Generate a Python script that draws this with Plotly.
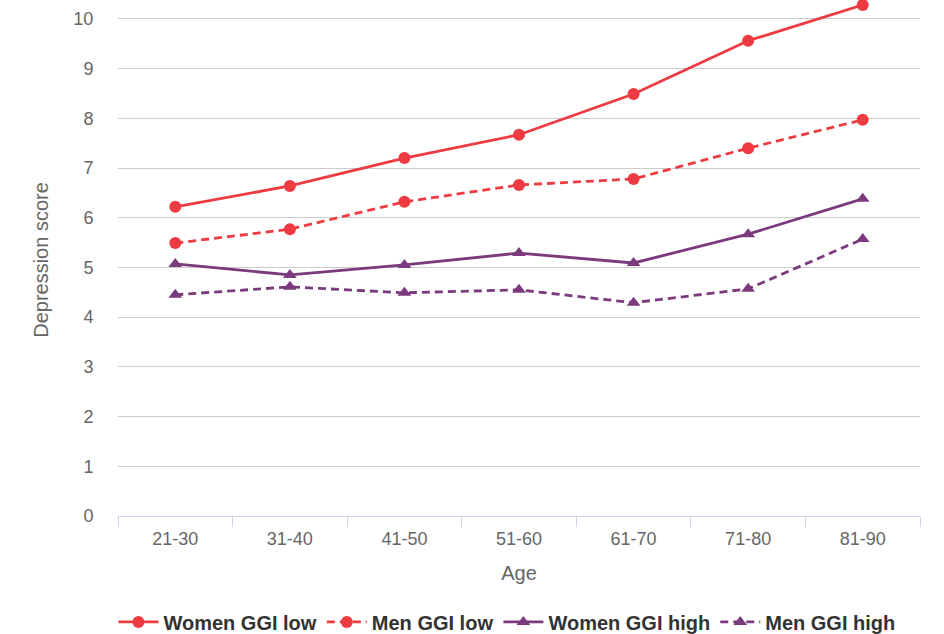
import plotly.graph_objects as go

# Data
age_groups = ["21-30", "31-40", "41-50", "51-60", "61-70", "71-80", "81-90"]
women_ggi_low = [6.22, 6.64, 7.20, 7.67, 8.49, 9.56, 10.28]
men_ggi_low = [5.49, 5.77, 6.32, 6.66, 6.78, 7.40, 7.97]
women_ggi_high = [5.07, 4.85, 5.05, 5.29, 5.09, 5.67, 6.38]
men_ggi_high = [4.45, 4.61, 4.49, 4.55, 4.29, 4.57, 5.57]

RED = "#ee3b42"
PURPLE = "#7b3a7d"
FONT = "Liberation Sans, Arial, sans-serif"

series = [
    ("Women GGI low", women_ggi_low, RED, "solid", "circle"),
    ("Men GGI low", men_ggi_low, RED, "8px,5px", "circle"),
    ("Women GGI high", women_ggi_high, PURPLE, "solid", "triangle-up"),
    ("Men GGI high", men_ggi_high, PURPLE, "8px,5px", "triangle-up"),
]

fig = go.Figure()
for name, values, color, dash, symbol in series:
    fig.add_trace(
        go.Scatter(
            x=age_groups,
            y=values,
            mode="lines+markers",
            name=name,
            line={"color": color, "width": 2.8, "dash": dash},
            marker={"symbol": symbol, "size": 12, "color": color},
            cliponaxis=False,
        )
    )

fig.update_layout(
    width=944,
    height=634,
    margin={"l": 118, "r": 24, "t": 4, "b": 118},
    paper_bgcolor="white",
    plot_bgcolor="white",
    font={"family": FONT, "color": "#666666", "size": 18},
    showlegend=True,
    legend={
        "orientation": "h",
        "x": 0.537,
        "xanchor": "center",
        "xref": "container",
        "y": 0.019,
        "yanchor": "middle",
        "yref": "container",
        "font": {"size": 20, "color": "#333333", "family": FONT, "weight": "bold"},
        "itemwidth": 40,
        "tracegroupgap": 0,
    },
    xaxis={
        "type": "category",
        "tickmode": "array",
        "tickvals": age_groups,
        "ticks": "outside",
        "tickson": "boundaries",
        "ticklen": 10,
        "tickcolor": "#ccd6eb",
        "showline": True,
        "linecolor": "#ccd6eb",
        "linewidth": 1,
        "showgrid": False,
        "automargin": False,
        "ticklabelstandoff": 6,
        "tickfont": {"size": 18, "color": "#666666"},
        "title": {"text": "Age", "font": {"size": 20, "color": "#666666"}, "standoff": 18},
        "range": [-0.5, 6.5],
    },
    yaxis={
        "range": [0, 10.30],
        "tickmode": "array",
        "tickvals": list(range(0, 11)),
        "showgrid": True,
        "gridcolor": "#cccccc",
        "gridwidth": 1,
        "zeroline": False,
        "automargin": False,
        "ticks": "outside",
        "ticklen": 20,
        "tickcolor": "rgba(0,0,0,0)",
        "tickfont": {"size": 18, "color": "#666666"},
        "title": {"text": "Depression score", "font": {"size": 20, "color": "#666666"}, "standoff": 19},
    },
)

# page body has a default 8px margin; drop it so the figure sits at the window origin
fig.write_html(
    "out.html",
    config={"displayModeBar": False},
    post_script="document.body.style.margin='0';",
)
